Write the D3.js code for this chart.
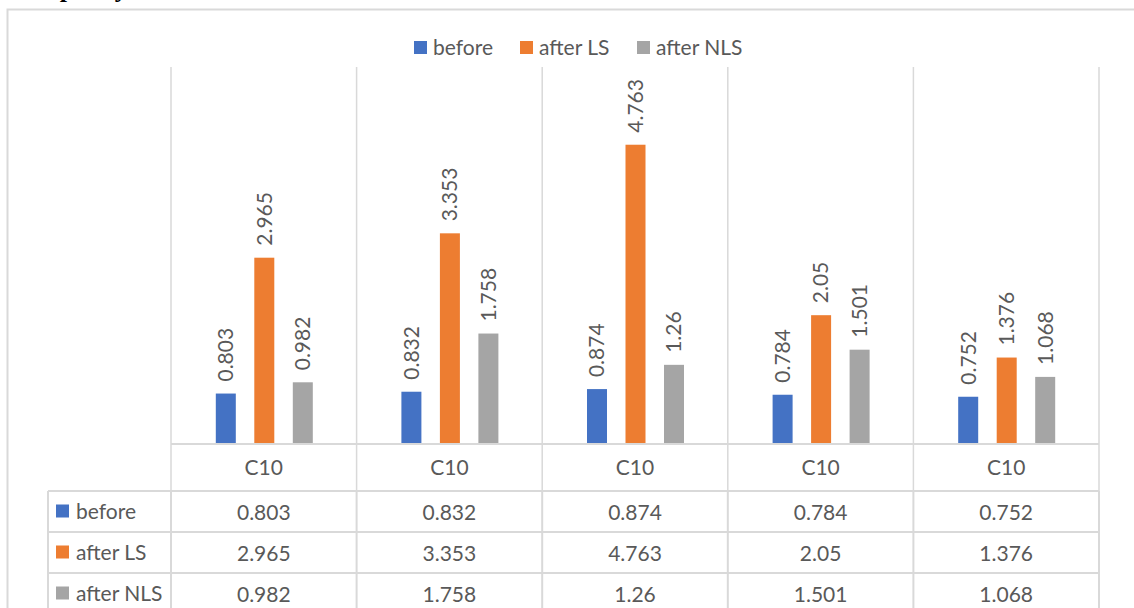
<!DOCTYPE html>
<html><head><meta charset="utf-8">
<script src="https://cdn.jsdelivr.net/npm/d3@7"></script>
<style>
html,body{margin:0;padding:0;background:#fff;}
svg{display:block;}
text{font-family:Lato,"Open Sans",sans-serif;}
</style></head>
<body>
<svg id="c" width="1134" height="608"></svg>
<script>
const categories = ["C10","C10","C10","C10","C10"];
const seriesNames = ["before","after LS","after NLS"];
const before = [0.803,0.832,0.874,0.784,0.752];
const afterLS = [2.965,3.353,4.763,2.05,1.376];
const afterNLS = [0.982,1.758,1.26,1.501,1.068];
const labelsText = [["0.803","0.832","0.874","0.784","0.752"],["2.965","3.353","4.763","2.05","1.376"],["0.982","1.758","1.26","1.501","1.068"]];
const colors = ["#4472c4","#ed7d31","#a5a5a5"];
const series = [before, afterLS, afterNLS];

const svg = d3.select("#c");
const grid = "#d9d9d9", txt = "#595959";
const FS = 21;

// heading cut off at the top of the page
svg.append("text").attr("x",28).attr("y",-3)
  .style("font-family","'Liberation Serif','Times New Roman',serif")
  .style("font-weight","bold").style("font-size","26px").attr("fill","#000").text("Capacity");

// outer chart frame
svg.append("rect").attr("x",7.5).attr("y",9.5).attr("width",1150).attr("height",620)
  .attr("fill","none").attr("stroke",grid).attr("stroke-width",2);

const plotL = 171, plotR = 1099, plotT = 67, plotB = 444;
const x = d3.scaleBand().domain(d3.range(categories.length)).range([plotL, plotR]).padding(0);
const y = d3.scaleLinear().domain([0,6]).range([plotB, plotT]);
const sub = d3.scalePoint().domain(d3.range(3)).range([-38.5, 38.5]);
const barW = 20;
const cxOf = (i, s) => x(i) + x.bandwidth()/2 + sub(s) + 0.5;

// vertical category separators in plot
const sepXs = d3.range(categories.length+1).map(i => i < categories.length ? x(i) : plotR);
svg.append("g").selectAll("line").data(sepXs).join("line")
  .attr("x1",d=>d).attr("x2",d=>d).attr("y1",plotT).attr("y2",491)
  .attr("stroke",grid).attr("stroke-width",1.5);

// bars
series.forEach((vals, s) => {
  const g = svg.append("g");
  g.selectAll("rect").data(vals).join("rect")
    .attr("x",(d,i)=> cxOf(i,s) - barW/2)
    .attr("y",d=>y(d)).attr("width",barW).attr("height",d=>plotB - y(d))
    .attr("fill",colors[s]);
  g.selectAll("text").data(vals).join("text")
    .attr("transform",(d,i)=>`translate(${cxOf(i,s)},${y(d)-12}) rotate(-90)`)
    .attr("dy","0.35em").attr("text-anchor","start")
    .attr("fill",txt).style("font-size",FS+"px")
    .text((d,i)=>labelsText[s][i]);
});

// baseline
svg.append("line").attr("x1",plotL).attr("x2",plotR).attr("y1",plotB).attr("y2",plotB)
  .attr("stroke",grid).attr("stroke-width",2);

// category labels
svg.append("g").selectAll("text").data(categories).join("text")
  .attr("x",(d,i)=>x(i)+x.bandwidth()/2).attr("y",475)
  .attr("text-anchor","middle").attr("fill",txt).style("font-size",FS+"px").text(d=>d);

// data table
const tabL = 48, rowYs = [491, 532, 573, 614];
svg.append("g").selectAll("line").data(rowYs).join("line")
  .attr("x1",tabL).attr("x2",plotR).attr("y1",d=>d).attr("y2",d=>d)
  .attr("stroke",grid).attr("stroke-width",2);
const tabVs = [tabL].concat(sepXs);
svg.append("g").selectAll("line").data(tabVs).join("line")
  .attr("x1",d=>d).attr("x2",d=>d).attr("y1",491).attr("y2",614)
  .attr("stroke",grid).attr("stroke-width",2);

seriesNames.forEach((name, s) => {
  const cy = (rowYs[s]+rowYs[s+1])/2;
  svg.append("rect").attr("x",56).attr("y",cy-7).attr("width",13).attr("height",13).attr("fill",colors[s]);
  svg.append("text").attr("x",76).attr("y",cy+7).attr("fill",txt).style("font-size",FS+"px").text(name);
  svg.append("g").selectAll("text").data(labelsText[s]).join("text")
    .attr("x",(d,i)=>x(i)+x.bandwidth()/2).attr("y",cy+8)
    .attr("text-anchor","middle").attr("fill",txt).style("font-size",FS+"px").text(d=>d);
});

// legend
const legX = [414, 520, 637];
seriesNames.forEach((name, s) => {
  svg.append("rect").attr("x",legX[s]).attr("y",41).attr("width",13).attr("height",13).attr("fill",colors[s]);
  svg.append("text").attr("x",legX[s]+19).attr("y",55).attr("fill",txt).style("font-size",FS+"px").text(name);
});
</script>
</body></html>
